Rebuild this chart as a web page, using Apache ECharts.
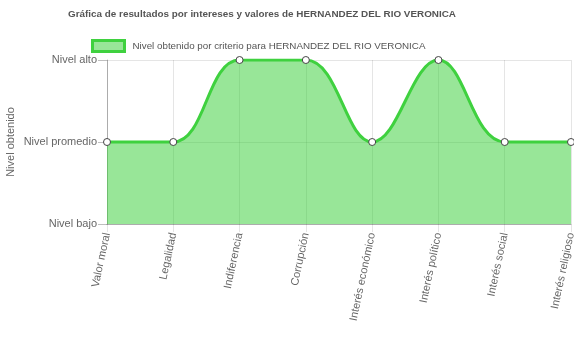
<!DOCTYPE html>
<html>
<head>
<meta charset="utf-8">
<script src="https://cdn.jsdelivr.net/npm/echarts@6/dist/echarts.min.js"></script>
<style>html,body{margin:0;padding:0;background:#fff}#c{width:574px;height:355px}</style>
</head>
<body>
<div id="c"></div>
<script>
const categories = ['Valor moral','Legalidad','Indiferencia','Corrupción','Interés económico','Interés político','Interés social','Interés religioso'];
const values = [1,1,2,2,1,2,1,1];
const levelLabels = ['Nivel bajo','Nivel promedio','Nivel alto'];
const seriesName = 'Nivel obtenido por criterio para HERNANDEZ DEL RIO VERONICA';
const titleText = 'Gráfica de resultados por intereses y valores de HERNANDEZ DEL RIO VERONICA';
const yName = 'Nivel obtenido';

const font = 'Liberation Sans, Arial, Helvetica, sans-serif';
const chart = echarts.init(document.getElementById('c'));
chart.setOption({
  animation: false,
  textStyle: {fontFamily: font},
  title: {
    text: titleText, left: 68, top: 9, padding: 0,
    textStyle: {fontSize: 9.9, fontWeight: 'bold', color: '#555', fontFamily: font}
  },
  legend: {
    data: [seriesName], top: 39, left: 91, padding: 0,
    itemWidth: 32, itemHeight: 11, itemGap: 8,
    icon: 'rect',
    itemStyle: {color: 'rgba(50,205,50,0.5)', borderColor: '#3fd13f', borderWidth: 3},
    textStyle: {fontSize: 9.8, color: '#555', fontFamily: font, padding: [0, 0, 0, 3]}
  },
  grid: {left: 107, right: 3, top: 60, bottom: 131, containLabel: false, outerBoundsMode: 'none'},
  xAxis: {
    type: 'category', data: categories, boundaryGap: false,
    axisLine: {lineStyle: {color: 'rgba(0,0,0,0.25)'}},
    axisTick: {show: true, length: 8, lineStyle: {color: 'rgba(0,0,0,0.1)'}},
    splitLine: {show: true, lineStyle: {color: 'rgba(0,0,0,0.1)'}},
    axisLabel: {rotate: 78, fontSize: 11, color: '#666', margin: 9, interval: 0, fontFamily: font}
  },
  yAxis: {
    type: 'value', min: 0, max: 2, interval: 1,
    name: yName, nameLocation: 'middle', nameGap: 91, nameMoveOverlap: false,
    nameTextStyle: {fontSize: 11, color: '#666', fontFamily: font},
    axisLine: {show: true, lineStyle: {color: 'rgba(0,0,0,0.25)'}},
    axisTick: {show: true, length: 9, lineStyle: {color: 'rgba(0,0,0,0.25)'}},
    splitLine: {show: true, lineStyle: {color: 'rgba(0,0,0,0.1)'}},
    axisLabel: {fontSize: 11, color: '#666', margin: 10, fontFamily: font,
      formatter: v => levelLabels[v] || ''}
  },
  series: [{
    name: seriesName, type: 'line', data: values, smooth: 0.4,
    clip: true,
    symbol: 'circle', symbolSize: 7,
    lineStyle: {color: '#3fd13f', width: 3},
    itemStyle: {color: '#fff', borderColor: '#444', borderWidth: 1},
    areaStyle: {color: 'rgba(50,205,50,0.5)', opacity: 1, origin: 'start'}
  }]
});
</script>
</body>
</html>
